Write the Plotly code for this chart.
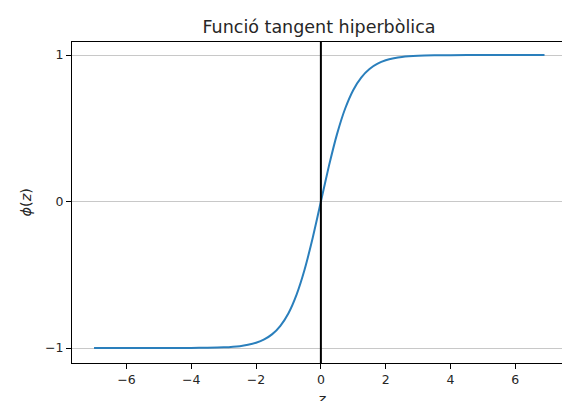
import plotly.graph_objects as go

# values
z_vals = [-7.0, -6.0, -5.0, -4.0, -3.5, -3.0, -2.5, -2.25, -2.0, -1.75, -1.5, -1.25,
          -1.0, -0.75, -0.5, -0.25, 0.0, 0.25, 0.5, 0.75, 1.0, 1.25, 1.5, 1.75,
          2.0, 2.25, 2.5, 3.0, 3.5, 4.0, 5.0, 6.0, 6.9]
phi_vals = [-1.0, -1.0, -0.9999, -0.9993, -0.998, -0.995, -0.987, -0.978, -0.964, -0.941,
            -0.905, -0.848, -0.762, -0.635, -0.462, -0.245, 0.0, 0.245, 0.462, 0.635,
            0.762, 0.848, 0.905, 0.941, 0.964, 0.978, 0.987, 0.995, 0.998, 0.9993,
            0.9999, 1.0, 1.0]

x_ticks = [-6, -4, -2, 0, 2, 4, 6]
x_ticklabels = ["−6", "−4", "−2", "0", "2", "4", "6"]
y_ticks = [-1, 0, 1]
y_ticklabels = ["−1", "0", "1"]

title_text = "Funció tangent hiperbòlica"
x_label = "<i>z</i>"
y_label = "<i>ϕ</i>(<i>z</i>)"

font_family = "DejaVu Sans"
text_color = "#262626"

fig = go.Figure()
fig.add_trace(go.Scatter(
    x=z_vals, y=phi_vals, mode="lines",
    line=dict(color="#2a7fbc", width=2, shape="spline", smoothing=0.6),
    showlegend=False, hoverinfo="skip",
))

# vertical line at z = 0
fig.add_shape(type="line", xref="x", yref="paper", x0=0, x1=0, y0=0, y1=1,
              line=dict(color="black", width=2), layer="above")

fig.update_layout(
    width=562, height=401,
    margin=dict(l=72, r=0, t=42, b=38),
    paper_bgcolor="white", plot_bgcolor="white",
    font=dict(family=font_family, color=text_color, size=12.5),
    title=dict(text=title_text, x=(319 - 72) / 490, xref="paper", xanchor="center",
               y=1 - 27 / 401, yref="container", yanchor="middle",
               font=dict(size=17.5, family=font_family, color=text_color)),
    xaxis=dict(range=[-7.68, 7.44], tickvals=x_ticks, ticktext=x_ticklabels,
               showgrid=False, zeroline=False, showline=True, linecolor="black",
               linewidth=1, mirror=True, ticks="outside", ticklen=5, tickwidth=1,
               tickcolor="black", tickfont=dict(size=12.5, color=text_color)),
    yaxis=dict(range=[-1.102, 1.089], tickvals=y_ticks, ticktext=y_ticklabels,
               showgrid=True, gridcolor="#c8c8c8", gridwidth=1, zeroline=False,
               showline=True, linecolor="black", linewidth=1, mirror=False,
               ticks="outside", ticklen=5, tickwidth=1, tickcolor="black",
               tickfont=dict(size=12.5, color=text_color)),
    annotations=[
        dict(text=y_label, xref="paper", yref="paper", x=(25 - 72) / 490, y=0.5,
             xanchor="center", yanchor="middle", textangle=-90, showarrow=False,
             font=dict(size=14.5, family=font_family, color=text_color)),
        dict(text=x_label, xref="paper", yref="paper", x=(321 - 72) / 490,
             y=(363 - 389) / 321, xanchor="center", yanchor="top", showarrow=False,
             font=dict(size=14.5, family=font_family, color=text_color)),
    ],
)

fig.write_html("out.html")
